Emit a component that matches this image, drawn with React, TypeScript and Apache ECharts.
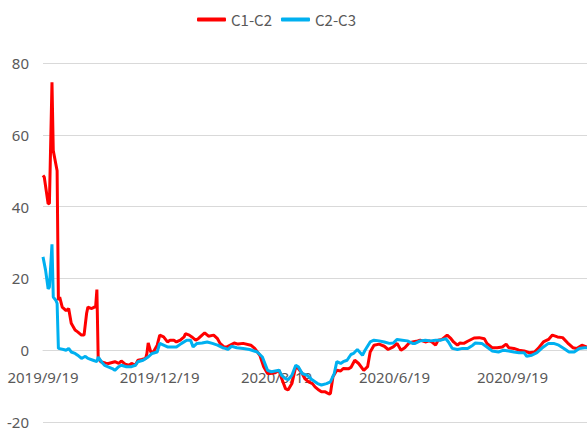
import React, { useEffect, useRef } from "react";
import * as echarts from "echarts";

const seriesNames = ["C1-C2", "C2-C3"];
const tickLabels = ["2019/9/19", "2019/12/19", "2020/3/19", "2020/6/19", "2020/9/19"];
const startDate = [2019, 9, 19];
const dayCount = 425;
const yTicks = { min: -20, max: 80, interval: 20 };

const c1c2: [string, number][] = [
  ["2019/9/19", 48.7], ["2019/9/20", 48.2], ["2019/9/23", 40.8], ["2019/9/24", 40.9], ["2019/9/26", 74.6],
  ["2019/9/27", 55.6], ["2019/9/30", 50], ["2019/10/1", 13.9], ["2019/10/2", 14.8], ["2019/10/4", 12],
  ["2019/10/7", 11], ["2019/10/9", 11.6], ["2019/10/11", 7.5], ["2019/10/14", 5.6], ["2019/10/16", 5.1],
  ["2019/10/19", 4.2], ["2019/10/21", 4.2], ["2019/10/23", 10.3], ["2019/10/24", 12], ["2019/10/27", 11.6],
  ["2019/10/29", 12], ["2019/10/30", 12], ["2019/10/31", 16.9], ["2019/11/1", -1.9], ["2019/11/3", -3.2],
  ["2019/11/7", -3.6], ["2019/11/9", -3.7], ["2019/11/14", -3.2], ["2019/11/17", -3.7], ["2019/11/19", -3],
  ["2019/11/22", -3.9], ["2019/11/25", -4.2], ["2019/11/27", -3.7], ["2019/11/30", -4.2], ["2019/12/2", -2.8],
  ["2019/12/5", -2.6], ["2019/12/8", -2.3], ["2019/12/9", -0.9], ["2019/12/10", 2], ["2019/12/12", -0.5],
  ["2019/12/14", -0.5], ["2019/12/17", 1.4], ["2019/12/19", 4.2], ["2019/12/22", 3.7], ["2019/12/25", 2.3],
  ["2019/12/27", 2.8], ["2019/12/30", 2.8], ["2020/1/1", 2.3], ["2020/1/4", 2.8], ["2020/1/7", 3.7],
  ["2020/1/8", 4.6], ["2020/1/11", 4.2], ["2020/1/13", 3.7], ["2020/1/16", 2.8], ["2020/1/18", 3.2],
  ["2020/1/21", 4.2], ["2020/1/23", 4.8], ["2020/1/26", 3.9], ["2020/1/30", 4.2], ["2020/2/2", 3.2],
  ["2020/2/4", 1.9], ["2020/2/7", 0.9], ["2020/2/9", 0.9], ["2020/2/15", 2], ["2020/2/18", 1.7],
  ["2020/2/22", 1.9], ["2020/2/28", 1.4], ["2020/3/2", 0.5], ["2020/3/6", -1.4], ["2020/3/9", -4.6],
  ["2020/3/12", -6.5], ["2020/3/14", -6.5], ["2020/3/18", -6.3], ["2020/3/21", -5.6], ["2020/3/23", -7.9],
  ["2020/3/26", -10.7], ["2020/3/28", -11.1], ["2020/3/31", -9.3], ["2020/4/3", -4.6], ["2020/4/5", -5.1],
  ["2020/4/8", -6.5], ["2020/4/10", -7.9], ["2020/4/13", -8.8], ["2020/4/16", -9.3], ["2020/4/18", -10.2],
  ["2020/4/21", -11.1], ["2020/4/23", -11.6], ["2020/4/26", -11.6], ["2020/4/29", -12.2], ["2020/4/30", -12.1],
  ["2020/5/2", -7.4], ["2020/5/5", -5.6], ["2020/5/8", -5.8], ["2020/5/10", -5.1], ["2020/5/14", -5.2],
  ["2020/5/16", -4.8], ["2020/5/19", -2.8], ["2020/5/22", -3.7], ["2020/5/26", -5.6], ["2020/5/29", -4.6],
  ["2020/5/31", -0.5], ["2020/6/3", 1.4], ["2020/6/7", 1.7], ["2020/6/11", 1.1], ["2020/6/14", 0.2],
  ["2020/6/18", 0.9], ["2020/6/21", 1.9], ["2020/6/24", 0], ["2020/6/27", 0.7], ["2020/6/30", 1.9],
  ["2020/7/3", 2.3], ["2020/7/7", 2.6], ["2020/7/9", 2.8], ["2020/7/13", 2.3], ["2020/7/16", 2.6],
  ["2020/7/18", 2.3], ["2020/7/21", 1.4], ["2020/7/23", 2.8], ["2020/7/26", 3], ["2020/7/30", 4.2],
  ["2020/8/2", 3.2], ["2020/8/4", 2.3], ["2020/8/7", 1.4], ["2020/8/9", 2], ["2020/8/12", 1.9],
  ["2020/8/15", 2.5], ["2020/8/20", 3.4], ["2020/8/24", 3.5], ["2020/8/28", 3.2], ["2020/8/30", 1.9],
  ["2020/9/3", 0.7], ["2020/9/7", 0.7], ["2020/9/11", 0.9], ["2020/9/14", 1.7], ["2020/9/16", 0.7],
  ["2020/9/20", 0.5], ["2020/9/24", 0], ["2020/9/28", -0.2], ["2020/10/2", -0.7], ["2020/10/6", -0.5],
  ["2020/10/9", 0.5], ["2020/10/13", 2.3], ["2020/10/17", 3], ["2020/10/20", 4.2], ["2020/10/24", 3.7],
  ["2020/10/28", 3.5], ["2020/11/1", 2], ["2020/11/5", 0.7], ["2020/11/8", 0.5], ["2020/11/12", 1.4],
  ["2020/11/16", 0.9],
];

const c2c3: [string, number][] = [
  ["2019/9/19", 26], ["2019/9/21", 22.3], ["2019/9/23", 17.1], ["2019/9/24", 17.6], ["2019/9/26", 29.5],
  ["2019/9/27", 14.8], ["2019/9/29", 13.9], ["2019/9/30", 13], ["2019/10/1", 0.5], ["2019/10/5", 0.2],
  ["2019/10/7", 0], ["2019/10/9", 0.5], ["2019/10/11", -0.5], ["2019/10/14", -0.9], ["2019/10/16", -1.4],
  ["2019/10/19", -2.3], ["2019/10/22", -1.7], ["2019/10/24", -2.3], ["2019/10/28", -2.8], ["2019/10/31", -3.2],
  ["2019/11/1", -1.9], ["2019/11/4", -3.4], ["2019/11/6", -4.2], ["2019/11/12", -5.1], ["2019/11/14", -5.6],
  ["2019/11/17", -4.6], ["2019/11/19", -4.2], ["2019/11/23", -4.6], ["2019/11/27", -4.6], ["2019/11/30", -4.2],
  ["2019/12/2", -3.2], ["2019/12/6", -2.8], ["2019/12/10", -1.9], ["2019/12/13", -0.9], ["2019/12/17", -0.5],
  ["2019/12/19", 1.9], ["2019/12/22", 1.4], ["2019/12/25", 0.9], ["2019/12/28", 0.9], ["2020/1/1", 0.9],
  ["2020/1/5", 1.9], ["2020/1/9", 2.8], ["2020/1/12", 2.8], ["2020/1/14", 0.9], ["2020/1/17", 1.9],
  ["2020/1/21", 2], ["2020/1/25", 2.3], ["2020/1/29", 1.9], ["2020/2/2", 1.4], ["2020/2/6", 0.7],
  ["2020/2/8", 0.5], ["2020/2/10", 0.2], ["2020/2/13", 1.1], ["2020/2/17", 0.7], ["2020/2/22", 0.5],
  ["2020/2/27", 0.2], ["2020/3/4", -0.5], ["2020/3/8", -1.9], ["2020/3/12", -5.6], ["2020/3/15", -6],
  ["2020/3/21", -5.6], ["2020/3/23", -7], ["2020/3/26", -7.9], ["2020/3/28", -8.2], ["2020/3/31", -7],
  ["2020/4/3", -4.2], ["2020/4/5", -4.6], ["2020/4/8", -6.5], ["2020/4/12", -7], ["2020/4/16", -8.3],
  ["2020/4/20", -9.3], ["2020/4/23", -9.7], ["2020/4/27", -9.3], ["2020/4/30", -8.8], ["2020/5/3", -6.5],
  ["2020/5/5", -3.2], ["2020/5/8", -3.7], ["2020/5/10", -3.2], ["2020/5/13", -2.8], ["2020/5/16", -1.2],
  ["2020/5/18", -0.9], ["2020/5/21", 0.2], ["2020/5/25", -1.4], ["2020/5/27", 0], ["2020/5/31", 2.3],
  ["2020/6/3", 2.8], ["2020/6/7", 2.6], ["2020/6/11", 2.3], ["2020/6/15", 1.9], ["2020/6/18", 2],
  ["2020/6/21", 3], ["2020/6/25", 2.8], ["2020/6/29", 2.6], ["2020/7/3", 1.9], ["2020/7/5", 1.9],
  ["2020/7/9", 2.6], ["2020/7/13", 2.8], ["2020/7/17", 2.6], ["2020/7/21", 2.8], ["2020/7/25", 2.8],
  ["2020/7/29", 3.2], ["2020/7/31", 2.3], ["2020/8/3", 0.5], ["2020/8/7", 0.2], ["2020/8/11", 0.5],
  ["2020/8/15", 0.5], ["2020/8/19", 1.4], ["2020/8/21", 2], ["2020/8/26", 1.9], ["2020/8/30", 0.9],
  ["2020/9/3", -0.2], ["2020/9/8", -0.5], ["2020/9/12", 0], ["2020/9/16", -0.2], ["2020/9/20", -0.5],
  ["2020/9/24", -0.7], ["2020/9/28", -0.7], ["2020/9/30", -1.7], ["2020/10/4", -1.4], ["2020/10/8", -0.7],
  ["2020/10/13", 0.9], ["2020/10/17", 1.9], ["2020/10/21", 1.9], ["2020/10/25", 1.4], ["2020/10/29", 0.5],
  ["2020/11/2", -0.5], ["2020/11/6", -0.5], ["2020/11/10", 0.5], ["2020/11/14", 0.7], ["2020/11/16", 0.7],
];

const seriesColors = ["#FF0000", "#00B0F0"];

function buildCategories(): string[] {
  const out: string[] = [];
  for (let i = 0; i < dayCount; i++) {
    const d = new Date(startDate[0], startDate[1] - 1, startDate[2] + i, 12);
    out.push(`${d.getFullYear()}/${d.getMonth() + 1}/${d.getDate()}`);
  }
  return out;
}

export default function App() {
  const ref = useRef<HTMLDivElement>(null);
  useEffect(() => {
    if (!ref.current) return;
    const chart = echarts.init(ref.current, undefined, { renderer: "svg" });
    const categories = buildCategories();
    const tickSet = new Set(tickLabels);
    const font = "Noto Sans";
    const gridTop = 63;
    const gridBottom = 9;
    const plotHeight = 431 - gridTop - gridBottom;
    const zeroOffset = -(plotHeight * (0 - yTicks.min)) / (yTicks.max - yTicks.min);
    chart.setOption({
      animation: false,
      textStyle: { fontFamily: font },
      legend: {
        data: seriesNames,
        left: 192,
        top: 7,
        icon: "roundRect",
        itemWidth: 29,
        itemHeight: 4,
        itemGap: 9,
        textStyle: { color: "#595959", fontSize: 15, fontFamily: "Noto Sans CJK SC" },
      },
      grid: {
        left: 43,
        right: 0,
        top: gridTop,
        bottom: gridBottom,
        containLabel: false,
        outerBoundsMode: "none",
      },
      xAxis: {
        type: "category",
        data: categories,
        boundaryGap: false,
        offset: zeroOffset,
        axisLine: { onZero: false, lineStyle: { color: "#d9d9d9", width: 1 } },
        axisTick: { show: false },
        axisLabel: {
          interval: (_i: number, v: string) => tickSet.has(v),
          color: "#595959",
          fontSize: 15,
          fontFamily: font,
          margin: 19,
        },
        splitLine: { show: false },
      },
      yAxis: {
        type: "value",
        min: yTicks.min,
        max: yTicks.max,
        interval: yTicks.interval,
        axisLine: { show: false },
        axisTick: { show: false },
        axisLabel: { color: "#595959", fontSize: 15, fontFamily: font, margin: 14 },
        splitLine: { lineStyle: { color: "#d9d9d9", width: 1 } },
      },
      series: [
        {
          name: seriesNames[0],
          type: "line",
          data: c1c2,
          symbol: "none",
          connectNulls: true,
          lineStyle: { color: seriesColors[0], width: 3 },
          itemStyle: { color: seriesColors[0] },
        },
        {
          name: seriesNames[1],
          type: "line",
          data: c2c3,
          symbol: "none",
          connectNulls: true,
          lineStyle: { color: seriesColors[1], width: 3 },
          itemStyle: { color: seriesColors[1] },
        },
      ],
    });
    return () => chart.dispose();
  }, []);
  return (
    <div
      ref={ref}
      style={{ position: "absolute", left: 0, top: 0, width: 587, height: 431 }}
    />
  );
}
